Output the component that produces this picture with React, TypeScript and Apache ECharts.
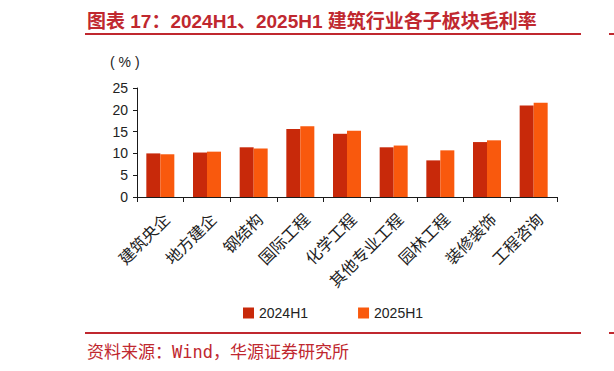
import React, { useEffect, useRef } from "react";
import * as echarts from "echarts";

const categories = ["建筑央企", "地方建企", "钢结构", "国际工程", "化学工程", "其他专业工程", "园林工程", "装修装饰", "工程咨询"];
const values2024H1 = [10.0, 10.2, 11.4, 15.6, 14.5, 11.4, 8.4, 12.6, 21.0];
const values2025H1 = [9.8, 10.4, 11.1, 16.2, 15.2, 11.8, 10.7, 13.0, 21.6];
const seriesNames = ["2024H1", "2025H1"];
const yMin = 0;
const yMax = 25;
const yInterval = 5;
const titleText = "图表 17：2024H1、2025H1 建筑行业各子板块毛利率";
const unitText = "( % )";
const sourceText = "资料来源：Wind，华源证券研究所";

const RED = "#c0282f";
const DARK = "#c8290a";
const ORANGE = "#f9590d";
const AXIS = "#1a1a1a";
const LATIN = "Liberation Sans, Arial, sans-serif";
const CJK = "Noto Sans CJK SC, sans-serif";

export default function App() {
  const ref = useRef<HTMLDivElement>(null);
  useEffect(() => {
    if (!ref.current) return;
    const chart = echarts.init(ref.current, undefined, { renderer: "svg" });
    chart.setOption({
      animation: false,
      backgroundColor: "#ffffff",
      grid: { left: 137, right: 57, top: 88, bottom: 174, containLabel: false },
      legend: {
        left: 238,
        top: 301,
        itemWidth: 11,
        itemHeight: 11,
        itemGap: 50,
        icon: "rect",
        textStyle: { fontSize: 14, color: "#222", fontFamily: LATIN },
        data: seriesNames,
      },
      xAxis: {
        type: "category",
        data: categories,
        boundaryGap: true,
        axisLine: { show: true, lineStyle: { color: AXIS, width: 1 } },
        axisTick: { show: true, alignWithLabel: false, length: 5, lineStyle: { color: AXIS } },
        axisLabel: {
          rotate: 45,
          interval: 0,
          margin: 13,
          align: "right",
          verticalAlign: "top",
          fontSize: 16,
          color: "#222",
          fontFamily: CJK,
        },
        splitLine: { show: false },
      },
      yAxis: {
        type: "value",
        min: yMin,
        max: yMax,
        interval: yInterval,
        axisLine: { show: true, lineStyle: { color: AXIS, width: 1 } },
        axisTick: { show: true, length: 4, lineStyle: { color: AXIS } },
        axisLabel: { margin: 9, fontSize: 14, color: "#222", fontFamily: LATIN },
        splitLine: { show: false },
      },
      series: [
        {
          name: seriesNames[0],
          type: "bar",
          data: values2024H1,
          barGap: "0%",
          barCategoryGap: "40%",
          itemStyle: { color: DARK },
        },
        {
          name: seriesNames[1],
          type: "bar",
          data: values2025H1,
          barGap: "0%",
          barCategoryGap: "40%",
          itemStyle: { color: ORANGE },
        },
      ],
      graphic: [
        {
          type: "text",
          x: 87,
          y: 21,
          style: {
            text: titleText,
            fontSize: 19,
            fontWeight: "bold",
            fill: RED,
            fontFamily: "Liberation Sans, Noto Sans CJK SC, sans-serif",
            verticalAlign: "middle",
            align: "left",
          },
        },
        { type: "rect", shape: { x: 85, y: 33, width: 496, height: 2 }, style: { fill: RED } },
        { type: "rect", shape: { x: 609, y: 33, width: 10, height: 2 }, style: { fill: RED } },
        { type: "rect", shape: { x: 85, y: 332, width: 496, height: 2 }, style: { fill: RED } },
        { type: "rect", shape: { x: 609, y: 332, width: 10, height: 2 }, style: { fill: RED } },
        {
          type: "text",
          x: 110,
          y: 62,
          style: {
            text: unitText,
            fontSize: 14,
            fill: "#222",
            fontFamily: LATIN,
            verticalAlign: "middle",
            align: "left",
          },
        },
        {
          type: "text",
          x: 87,
          y: 352,
          style: {
            text: sourceText,
            fontSize: 17,
            fill: RED,
            fontFamily: "DejaVu Sans Mono, Noto Sans CJK SC, monospace",
            verticalAlign: "middle",
            align: "left",
          },
        },
      ],
    });
    return () => chart.dispose();
  }, []);
  return (
    <div
      ref={ref}
      style={{ position: "absolute", left: 0, top: 0, width: 614, height: 371, background: "#fff" }}
    />
  );
}
